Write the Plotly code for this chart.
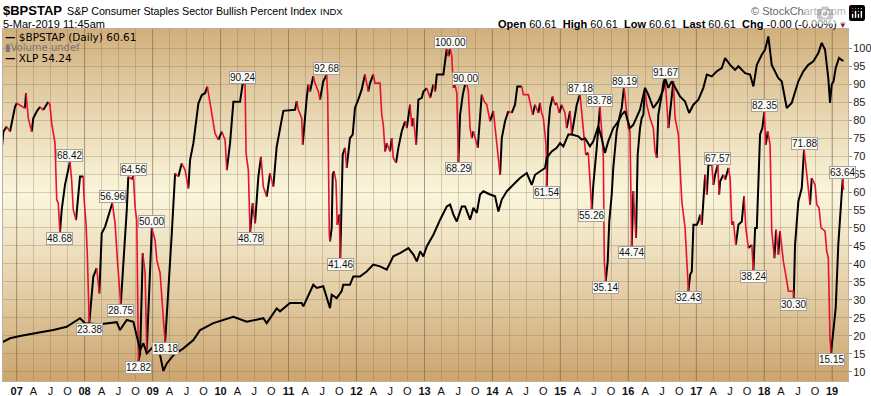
import math
from datetime import datetime, timedelta
import plotly.graph_objects as go

# ---------------- data (decimal years) ----------------
bpi_t = [2006.779, 2006.803, 2006.853, 2006.901, 2006.975, 2007.000, 2007.122, 2007.137, 2007.171, 2007.221,
         2007.244, 2007.294, 2007.343, 2007.391, 2007.465, 2007.490, 2007.515, 2007.564, 2007.589, 2007.612,
         2007.637, 2007.662, 2007.711, 2007.784, 2007.809, 2007.833, 2007.873, 2007.907, 2007.932, 2007.980,
         2007.990, 2008.020, 2008.039, 2008.068, 2008.127, 2008.177, 2008.216, 2008.251, 2008.300, 2008.348,
         2008.407, 2008.447, 2008.481, 2008.531, 2008.569, 2008.619, 2008.642, 2008.693, 2008.716, 2008.741,
         2008.766, 2008.790, 2008.815, 2008.854, 2008.888, 2008.913, 2008.962, 2008.987, 2009.035, 2009.060,
         2009.109, 2009.158, 2009.183, 2009.231, 2009.281, 2009.330, 2009.378, 2009.428, 2009.477, 2009.525,
         2009.550, 2009.599, 2009.673, 2009.723, 2009.771, 2009.805, 2009.835, 2009.870, 2009.918, 2009.967,
         2010.017, 2010.066, 2010.091, 2010.139, 2010.188, 2010.286, 2010.326, 2010.360, 2010.375, 2010.408,
         2010.434, 2010.473, 2010.507, 2010.556, 2010.595, 2010.629, 2010.679, 2010.728, 2010.776, 2010.826,
         2010.924, 2011.096, 2011.121, 2011.144, 2011.194, 2011.209, 2011.228, 2011.268, 2011.292, 2011.317,
         2011.365, 2011.390, 2011.439, 2011.464, 2011.489, 2011.512, 2011.562, 2011.577, 2011.601, 2011.611,
         2011.636, 2011.651, 2011.670, 2011.699, 2011.718, 2011.748, 2011.762, 2011.798, 2011.832, 2011.857,
         2011.905, 2011.945, 2011.979, 2012.027, 2012.077, 2012.126, 2012.151, 2012.174, 2012.200, 2012.248,
         2012.273, 2012.347, 2012.372, 2012.395, 2012.420, 2012.445, 2012.494, 2012.519, 2012.542, 2012.582,
         2012.616, 2012.666, 2012.715, 2012.740, 2012.763, 2012.788, 2012.813, 2012.837, 2012.876, 2012.896,
         2012.910, 2012.960, 2012.984, 2013.034, 2013.083, 2013.131, 2013.156, 2013.181, 2013.278, 2013.303,
         2013.328, 2013.352, 2013.377, 2013.402, 2013.425, 2013.450, 2013.475, 2013.499, 2013.524, 2013.564,
         2013.598, 2013.623, 2013.646, 2013.671, 2013.696, 2013.720, 2013.745, 2013.784, 2013.818, 2013.843,
         2013.877, 2013.917, 2013.965, 2014.014, 2014.064, 2014.113, 2014.138, 2014.186, 2014.235, 2014.285,
         2014.333, 2014.367, 2014.432, 2014.456, 2014.529, 2014.554, 2014.594, 2014.628, 2014.676, 2014.701,
         2014.726, 2014.750, 2014.790, 2014.800, 2014.824, 2014.849, 2014.888, 2014.922, 2014.947, 2014.985,
         2015.021, 2015.069, 2015.094, 2015.143, 2015.168, 2015.217, 2015.242, 2015.290, 2015.315, 2015.339,
         2015.374, 2015.412, 2015.437, 2015.462, 2015.486, 2015.536, 2015.559, 2015.584, 2015.609, 2015.633,
         2015.648, 2015.668, 2015.698, 2015.721, 2015.757, 2015.780, 2015.830, 2015.879, 2015.904, 2015.938,
         2015.967, 2016.001, 2016.026, 2016.051, 2016.075, 2016.100, 2016.114, 2016.139, 2016.173, 2016.198,
         2016.222, 2016.247, 2016.272, 2016.320, 2016.369, 2016.394, 2016.419, 2016.442, 2016.492, 2016.516,
         2016.541, 2016.566, 2016.590, 2016.629, 2016.663, 2016.688, 2016.737, 2016.762, 2016.787, 2016.835,
         2016.860, 2016.884, 2016.909, 2016.934, 2016.958, 2017.008, 2017.031, 2017.056, 2017.081, 2017.105,
         2017.130, 2017.155, 2017.178, 2017.228, 2017.252, 2017.277, 2017.317, 2017.336, 2017.351, 2017.399,
         2017.424, 2017.473, 2017.498, 2017.523, 2017.546, 2017.582, 2017.620, 2017.670, 2017.704, 2017.729,
         2017.767, 2017.817, 2017.841, 2017.866, 2017.891, 2017.914, 2017.939, 2017.973, 2018.002, 2018.023,
         2018.052, 2018.086, 2018.111, 2018.150, 2018.175, 2018.208, 2018.233, 2018.282, 2018.317, 2018.356,
         2018.429, 2018.435, 2018.454, 2018.503, 2018.553, 2018.587, 2018.626, 2018.675, 2018.700, 2018.749,
         2018.774, 2018.807, 2018.837, 2018.896, 2018.921, 2018.944, 2018.969, 2018.984, 2019.018, 2019.053,
         2019.091, 2019.141, 2019.156, 2019.168]

bpi_v = [71.7, 76.8, 78.2, 76.8, 83.7, 84.7, 83.3, 87.5, 80.5, 76.8,
         80.5, 82.4, 83.7, 82.8, 85.1, 84.2, 79.1, 73.6, 57.8, 56.9,
         48.68, 55.0, 62.0, 68.42, 63.3, 55.0, 52.2, 59.6, 64.3, 64.3,
         58.7, 51.3, 43.0, 23.38, 36.4, 38.8, 31.8, 48.5, 50.3, 53.1,
         56.96, 51.3, 41.1, 28.75, 39.2, 55.0, 64.3, 63.5, 64.56, 55.9,
         52.0, 12.82, 15.1, 43.0, 37.4, 16.0, 36.4, 50.0, 46.6, 41.1,
         37.4, 24.4, 18.18, 31.8, 48.5, 65.2, 64.3, 68.0, 66.1, 61.0,
         68.9, 73.6, 84.7, 87.0, 87.5, 89.3, 85.6, 81.0, 76.3, 74.5,
         76.8, 74.5, 66.1, 73.6, 85.1, 85.1, 90.24, 90.24, 70.8, 66.1,
         48.78, 56.9, 51.3, 64.3, 69.8, 61.5, 58.7, 65.2, 61.5, 72.6,
         82.6, 82.9, 85.3, 82.9, 80.6, 73.2, 77.8, 86.2, 89.9, 88.0,
         92.2, 90.3, 88.0, 85.7, 89.0, 90.8, 92.68, 87.1, 48.1, 46.3,
         50.0, 64.8, 65.8, 63.0, 50.9, 53.7, 41.46, 70.4, 72.3, 66.7,
         75.0, 76.0, 83.4, 85.7, 88.5, 92.7, 90.3, 88.0, 90.3, 92.7,
         90.3, 90.3, 81.5, 78.7, 71.3, 73.6, 71.3, 75.0, 69.5, 68.1,
         72.3, 76.9, 79.7, 77.8, 80.6, 84.3, 78.3, 80.6, 73.2, 80.6,
         85.7, 86.2, 88.0, 88.9, 86.2, 89.9, 88.0, 92.7, 92.7, 96.4,
         100.0, 97.8, 100.0, 97.8, 89.0, 89.9, 87.6, 68.29, 81.5, 87.1,
         90.0, 90.0, 88.0, 77.8, 75.0, 76.9, 75.0, 72.3, 82.5, 87.1,
         85.3, 84.3, 79.7, 82.5, 73.2, 64.8, 75.0, 79.7, 82.5, 82.0,
         84.3, 89.4, 89.4, 87.1, 87.1, 84.8, 81.5, 84.3, 82.0, 84.8,
         82.0, 80.6, 73.2, 61.54, 77.8, 83.4, 86.6, 84.3, 84.8, 82.0,
         84.3, 82.0, 77.8, 82.5, 76.0, 81.5, 84.3, 87.18, 81.5, 76.9,
         70.4, 70.9, 63.9, 55.26, 62.0, 72.3, 77.8, 83.78, 77.8, 70.4,
         40.7, 35.14, 40.7, 51.9, 59.3, 66.7, 76.9, 81.5, 83.4, 89.19,
         83.4, 77.8, 76.9, 44.74, 60.2, 53.7, 47.2, 70.4, 77.8, 80.6,
         81.5, 89.0, 84.3, 80.6, 77.8, 71.3, 69.5, 81.5, 87.1, 90.3,
         91.67, 83.4, 77.8, 85.3, 90.8, 80.6, 76.0, 66.7, 57.4, 50.0,
         40.7, 32.43, 37.0, 37.9, 50.9, 50.9, 51.8, 53.7, 50.9, 59.3,
         64.8, 59.3, 67.6, 67.6, 62.0, 64.8, 67.57, 59.3, 63.0, 64.8,
         63.4, 66.7, 63.9, 50.9, 51.8, 45.3, 50.9, 51.8, 58.8, 50.0,
         44.4, 45.3, 38.24, 50.0, 50.0, 64.8, 76.0, 77.8, 82.35, 73.2,
         76.9, 73.2, 49.1, 41.6, 49.5, 42.6, 49.1, 40.7, 37.0, 32.4,
         32.4, 30.30, 45.3, 57.4, 61.1, 71.88, 65.8, 56.5, 63.9, 62.0,
         56.5, 55.6, 50.0, 49.1, 43.5, 41.6, 19.4, 15.15, 21.2, 27.7,
         45.3, 60.2, 63.64, 60.61]

xlp_t = [2006.779, 2006.901, 2007.049, 2007.244, 2007.391, 2007.539, 2007.736, 2007.932, 2008.005, 2008.226,
         2008.472, 2008.520, 2008.619, 2008.716, 2008.766, 2008.815, 2008.863, 2008.913, 2009.010, 2009.109,
         2009.157, 2009.208, 2009.305, 2009.452, 2009.599, 2009.698, 2009.893, 2010.188, 2010.385, 2010.629,
         2010.679, 2010.826, 2010.875, 2011.022, 2011.194, 2011.218, 2011.365, 2011.415, 2011.512, 2011.611,
         2011.636, 2011.709, 2011.783, 2011.806, 2011.905, 2011.954, 2012.052, 2012.151, 2012.248, 2012.347,
         2012.445, 2012.542, 2012.641, 2012.763, 2012.837, 2012.887, 2012.936, 2012.984, 2013.034, 2013.131,
         2013.230, 2013.328, 2013.377, 2013.426, 2013.475, 2013.549, 2013.598, 2013.671, 2013.720, 2013.770,
         2013.818, 2013.867, 2013.966, 2014.039, 2014.088, 2014.138, 2014.211, 2014.308, 2014.406, 2014.506,
         2014.579, 2014.628, 2014.702, 2014.775, 2014.800, 2014.873, 2014.947, 2014.996, 2015.044, 2015.118,
         2015.168, 2015.265, 2015.315, 2015.363, 2015.437, 2015.486, 2015.559, 2015.609, 2015.658, 2015.706,
         2015.780, 2015.854, 2015.904, 2015.952, 2016.026, 2016.074, 2016.173, 2016.247, 2016.295, 2016.369,
         2016.442, 2016.516, 2016.541, 2016.590, 2016.639, 2016.688, 2016.761, 2016.835, 2016.894, 2016.957,
         2017.031, 2017.104, 2017.155, 2017.228, 2017.302, 2017.375, 2017.424, 2017.498, 2017.571, 2017.620,
         2017.719, 2017.792, 2017.841, 2017.891, 2017.964, 2018.013, 2018.061, 2018.111, 2018.160, 2018.208,
         2018.258, 2018.307, 2018.332, 2018.405, 2018.454, 2018.503, 2018.576, 2018.650, 2018.724, 2018.797,
         2018.847, 2018.896, 2018.944, 2018.969, 2018.994, 2019.021, 2019.053, 2019.102, 2019.137, 2019.168]

xlp_p = [20.94, 21.45, 21.71, 22.05, 22.22, 22.43, 22.81, 23.83, 23.24, 23.11,
         23.36, 22.43, 23.62, 23.41, 21.62, 20.05, 20.86, 19.67, 20.48, 19.46,
         17.59, 18.48, 19.46, 20.26, 21.24, 22.43, 23.24, 24.00, 23.41, 23.83,
         23.24, 24.98, 24.64, 25.62, 25.62, 25.23, 27.78, 27.40, 27.61, 25.02,
         26.59, 26.21, 27.02, 27.78, 27.78, 28.76, 28.76, 29.35, 30.16, 29.95,
         29.57, 31.14, 31.52, 32.12, 31.35, 30.54, 31.73, 31.14, 32.33, 33.69,
         35.47, 37.04, 37.26, 36.07, 35.26, 37.04, 37.04, 35.47, 36.87, 36.28,
         38.45, 38.83, 38.45, 38.23, 36.45, 37.85, 38.83, 39.59, 40.40, 40.99,
         39.59, 40.78, 41.21, 41.59, 42.78, 43.54, 43.97, 44.52, 44.14, 45.54,
         45.54, 45.33, 44.94, 45.11, 44.14, 44.73, 46.52, 45.11, 43.37, 44.73,
         46.30, 47.11, 47.88, 48.30, 46.30, 46.69, 48.47, 51.06, 50.25, 48.68,
         49.49, 50.85, 52.21, 51.06, 51.83, 51.06, 50.04, 49.45, 48.09, 49.07,
         49.66, 51.06, 52.63, 52.42, 53.02, 53.40, 54.59, 53.78, 53.19, 53.61,
         52.80, 52.63, 51.23, 53.78, 54.97, 55.57, 57.14, 53.78, 53.02, 52.21,
         51.83, 49.87, 48.68, 49.28, 50.64, 51.83, 53.02, 53.78, 54.21, 55.18,
         56.37, 55.57, 52.21, 49.28, 51.44, 51.83, 53.40, 54.59, 54.37, 54.24]

# labelled reversal points of the index
label_t = [2007.637, 2007.784, 2008.068, 2008.407, 2008.531, 2008.716, 2008.790, 2008.987, 2009.183,
           2010.326, 2010.434, 2011.562, 2011.762, 2013.377, 2013.499, 2013.598, 2014.800,
           2015.290, 2015.462, 2015.584, 2015.668, 2015.938, 2016.051, 2016.541, 2016.884,
           2017.317, 2017.841, 2018.002, 2018.435, 2018.587, 2018.984, 2019.156]
label_v = [48.68, 68.42, 23.38, 56.96, 28.75, 64.56, 12.82, 50.00, 18.18,
           90.24, 48.78, 92.68, 41.46, 100.00, 68.29, 90.00, 61.54,
           87.18, 55.26, 83.78, 35.14, 89.19, 44.74, 91.67, 32.43,
           67.57, 38.24, 82.35, 30.30, 71.88, 15.15, 63.64]
label_side = ["below", "above", "below", "above", "below", "above", "below", "above", "below",
              "above", "below", "above", "below", "above", "below", "above", "below",
              "above", "below", "above", "below", "above", "below", "above", "below",
              "above", "below", "above", "below", "above", "below", "above"]

y_ticks = list(range(10, 101, 5))
quarter_letters = ["A", "J", "O"]
tick_years = list(range(2007, 2020))

# ---------------- helpers ----------------
def to_date(t):
    y = int(math.floor(t))
    start = datetime(y, 1, 1)
    days = (datetime(y + 1, 1, 1) - start).days
    return start + timedelta(days=(t - y) * days)

W, H = 871, 396
PL, PR, PT, PB = 3, 848, 29, 381      # plot box in pixels

def px(x):
    return (x - PL) / (PR - PL)

def py(y):
    return (PB - y) / (PB - PT)

Y_MIN, Y_MAX = 7.41, 105.37
# XLP price scale (hidden overlay axis)
P_MIN, P_MAX = 16.402, 58.017

bpi_d = [to_date(t) for t in bpi_t]
xlp_d = [to_date(t) for t in xlp_t]

# split index line into runs of rising (black) / falling (red)
runs = []
prev_c = "black"
for i in range(len(bpi_v) - 1):
    if bpi_v[i + 1] < bpi_v[i]:
        c = "red"
    elif bpi_v[i + 1] > bpi_v[i]:
        c = "black"
    else:
        c = prev_c
    if runs and runs[-1][0] == c:
        runs[-1][1].append(i + 1)
    else:
        runs.append([c, [i, i + 1]])
    prev_c = c

red_x, red_y, blk_x, blk_y = [], [], [], []
for c, idx in runs:
    xs = [bpi_d[j] for j in idx] + [None]
    ys = [bpi_v[j] for j in idx] + [None]
    if c == "red":
        red_x += xs; red_y += ys
    else:
        blk_x += xs; blk_y += ys

fig = go.Figure()

# gradient background bands
N = 90
def bg_color(f):
    # f = 0 bottom .. 1 top
    top = (209, 175, 124)
    mid = (250, 245, 219)
    bot = (203, 164, 110)
    m = 0.53
    if f >= m:
        s = (f - m) / (1 - m)
        a, b = mid, top
    else:
        s = (m - f) / m
        a, b = mid, bot
    s = s ** 1.1
    return "rgb(%d,%d,%d)" % tuple(round(a[k] + (b[k] - a[k]) * s) for k in range(3))

for k in range(N):
    y0 = k / N
    y1 = (k + 1) / N
    fig.add_shape(type="rect", xref="paper", yref="paper", x0=0, x1=1, y0=y0, y1=y1 + 0.002,
                  fillcolor=bg_color((y0 + y1) / 2), line=dict(width=0), layer="below")

# darker year grid lines
for yr in tick_years:
    fig.add_shape(type="line", xref="x", yref="paper", x0=datetime(yr, 1, 1), x1=datetime(yr, 1, 1),
                  y0=0, y1=1, line=dict(color="rgba(110,95,80,0.45)", width=1), layer="between")

fig.add_trace(go.Scatter(x=xlp_d, y=xlp_p, mode="lines", yaxis="y2",
                         line=dict(color="#000000", width=2), hoverinfo="skip", showlegend=False))
fig.add_trace(go.Scatter(x=blk_x, y=blk_y, mode="lines",
                         line=dict(color="#000000", width=2), connectgaps=False,
                         hoverinfo="skip", showlegend=False))
fig.add_trace(go.Scatter(x=red_x, y=red_y, mode="lines",
                         line=dict(color="#e8102e", width=1.6), connectgaps=False,
                         hoverinfo="skip", showlegend=False))

# labels on reversal points
for t, v, side in zip(label_t, label_v, label_side):
    ay = -6 if side == "above" else 6
    fig.add_annotation(x=to_date(t), y=v, xref="x", yref="y", text="%.2f" % v,
                       showarrow=True, arrowhead=0, arrowwidth=1, arrowcolor="#a8a39a",
                       ax=0, ay=ay, standoff=0,
                       bgcolor="#fbfbf6", bordercolor="#a8a39a", borderwidth=1, borderpad=0,
                       font=dict(family="Liberation Sans, Arial", size=10, color="#111111"))

# x ticks (quarters)
tickvals, ticktext = [], []
for yr in tick_years:
    tickvals.append(datetime(yr, 1, 1))
    ticktext.append("<b>%02d</b>" % (yr % 100))
    if yr < 2019:
        for m, lab in zip([4, 7, 10], quarter_letters):
            tickvals.append(datetime(yr, m, 1))
            ticktext.append(lab)

grid_c = "rgba(125,100,70,0.28)"
fig.update_layout(
    width=W, height=H,
    margin=dict(l=PL, r=W - PR, t=PT, b=H - PB, pad=0),
    paper_bgcolor="#ffffff", plot_bgcolor="rgba(0,0,0,0)",
    showlegend=False,
    xaxis=dict(type="date", range=[to_date(2006.798), to_date(2019.234)],
               tickvals=tickvals, ticktext=ticktext, showgrid=True, gridcolor=grid_c, gridwidth=1,
               ticks="", ticklen=0, ticklabeloverflow="allow",
               tickfont=dict(family="Liberation Sans, Arial", size=11, color="#111111"),
               showline=True, linecolor="#c0b09a", linewidth=1, mirror=True, zeroline=False,
               automargin=False, fixedrange=True),
    yaxis=dict(range=[Y_MIN, Y_MAX], side="right", tickvals=y_ticks,
               showgrid=True, gridcolor=grid_c, gridwidth=1,
               ticks="outside", ticklen=3, tickcolor="#9a8a74", ticklabeloverflow="allow",
               ticklabelstandoff=-1,
               tickfont=dict(family="Liberation Sans, Arial", size=11, color="#222222"),
               showline=True, linecolor="#c0b09a", linewidth=1, mirror=True, zeroline=False,
               automargin=False, fixedrange=True),
    yaxis2=dict(range=[P_MIN, P_MAX], overlaying="y", visible=False, fixedrange=True),
)

def txt(x, y, text, size=11, color="#000", family="Liberation Sans, Arial", xanchor="left"):
    fig.add_annotation(x=px(x), y=py(y), xref="paper", yref="paper", text=text, showarrow=False,
                       xanchor=xanchor, yanchor="middle",
                       font=dict(family=family, size=size, color=color))

# header
txt(1, 10, "<b>$BPSTAP</b>", size=13)
txt(65, 11, "S&P Consumer Staples Sector Bullish Percent Index", size=10.7)
txt(318, 11, "INDX", size=9.5)
txt(1, 24, "5-Mar-2019 11:45am", size=11)
txt(848, 11, "© StockCharts.com", size=11, color="#666666", xanchor="right")
txt(848, 24, "<b>Open</b> 60.61  <b>High</b> 60.61  <b>Low</b> 60.61  <b>Last</b> 60.61  "
             "<b>Chg</b> -0.00 (-0.00%) <span style='color:#8b1030'>▾</span>",
    size=11, xanchor="right")

# in-chart legend
txt(3, 37, "<b>—</b> $BPSTAP (Daily) 60.61", size=10.5, family="DejaVu Sans")
txt(3, 47, "<span style='color:#777'>▮</span><span style='color:#777'>Volume undef</span>",
    size=10, family="DejaVu Sans")
txt(3, 58, "<b>—</b> XLP 54.24", size=10.5, family="DejaVu Sans")

fig.write_html("out.html", post_script="document.body.style.margin='0';")
